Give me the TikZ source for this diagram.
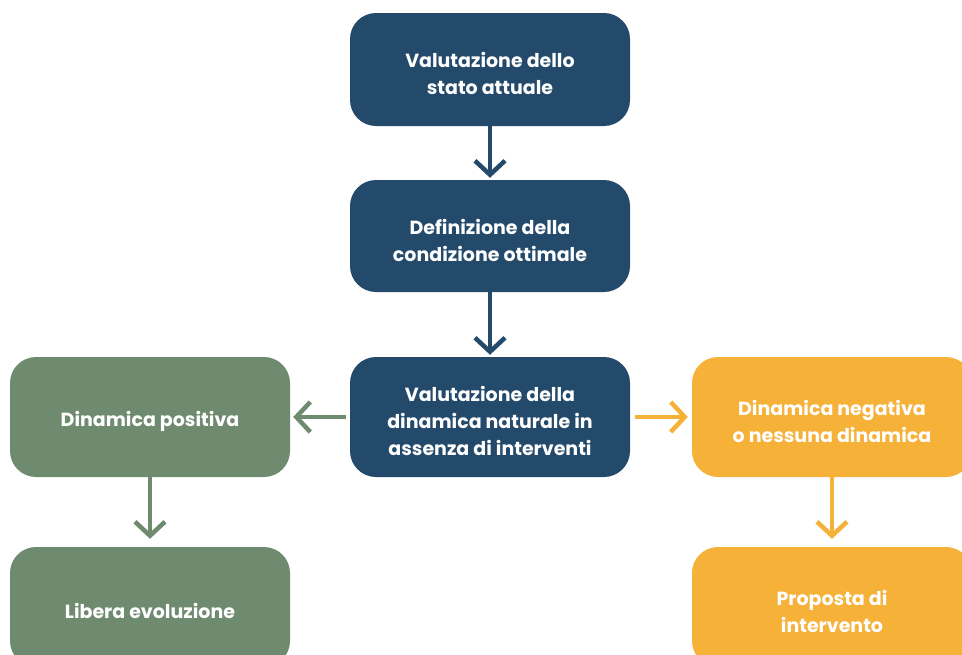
\documentclass[tikz,border=0pt]{standalone}
\usepackage{fontspec}
\setmainfont{Poppins}
\usepackage{xcolor}
\usepackage{tikz}
\usetikzlibrary{arrows.meta}

\definecolor{scuro}{RGB}{36,74,107}
\definecolor{salvia}{RGB}{111,139,111}
\definecolor{ocra}{RGB}{246,177,56}

\begin{document}
\begin{tikzpicture}[x=1pt,y=-1pt]
	\useasboundingbox (0,0) rectangle (962,654);
	\tikzstyle{box}=[rounded corners=26pt,minimum width=280pt,inner sep=0pt]
	\tikzstyle{testo}=[text=white,align=center,font=\fontsize{19}{27}\selectfont\bfseries,yshift=-4pt]
	\tikzstyle{freccia}=[line width=4.5pt,-{Straight Barb[length=14pt,width=30pt]}]
	\node[box,fill=scuro,minimum height=113pt,label={[testo]center:{Valutazione dello\\stato attuale}}] (b1) at (490,69.5) {};
	\node[box,fill=scuro,minimum height=112pt,label={[testo]center:{Definizione della\\condizione ottimale}}] (b2) at (490,236) {};
	\node[box,fill=scuro,minimum height=120pt,label={[testo]center:{Valutazione della\\dinamica naturale in\\assenza di interventi}}] (b3) at (490,417) {};
	\node[box,fill=salvia,minimum height=120pt,label={[testo]center:{Dinamica positiva}}] (pos) at (150,417) {};
	\node[box,fill=salvia,minimum height=120pt,label={[testo]center:{Libera evoluzione}}] (lib) at (150,607) {};
	\node[box,fill=ocra,minimum height=120pt,label={[testo]center:{Dinamica negativa\\o nessuna dinamica}}] (neg) at (832,417) {};
	\node[box,fill=ocra,minimum height=120pt,label={[testo]center:{Proposta di\\intervento}}] (prop) at (832,607) {};
	\draw[freccia,scuro] (b1) -- ([yshift=2pt]b2.north);
	\draw[freccia,scuro] (b2) -- ([yshift=2pt]b3.north);
	\draw[freccia,salvia] ([xshift=-4pt]b3.west) -- ([xshift=3pt]pos.east);
	\draw[freccia,ocra] ([xshift=5pt]b3.east) -- ([xshift=-4pt]neg.west);
	\draw[freccia,salvia] (pos) -- ([yshift=8pt]lib.north);
	\draw[freccia,ocra] (neg) -- ([yshift=8pt]prop.north);
\end{tikzpicture}
\end{document}
